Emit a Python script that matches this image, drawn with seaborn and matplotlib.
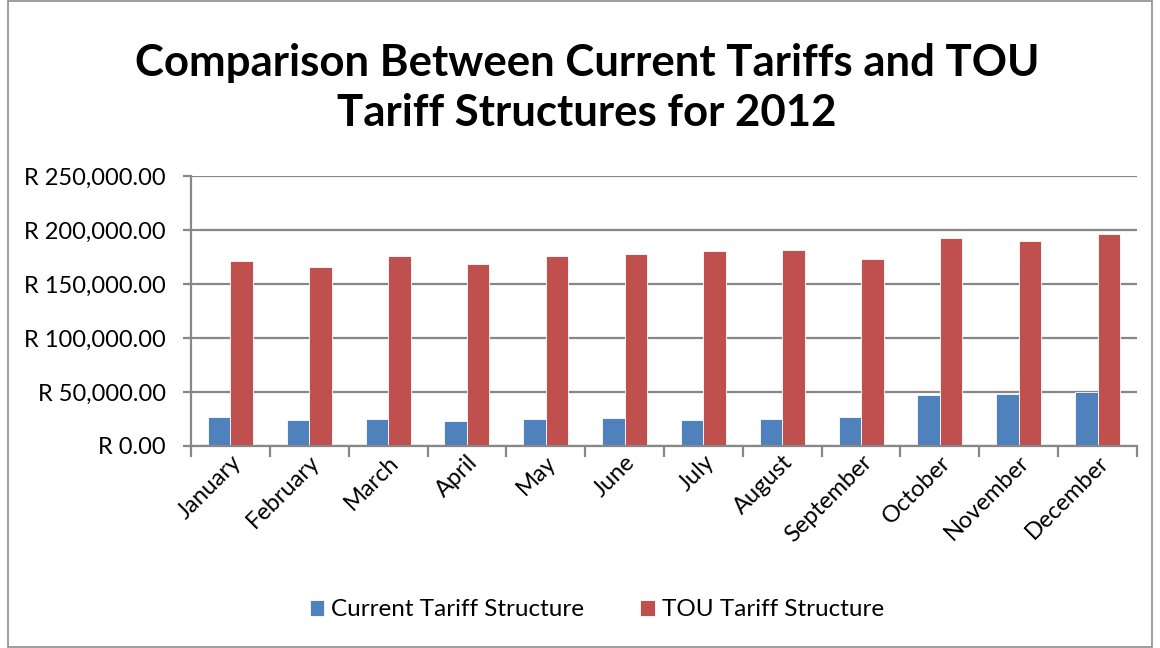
import matplotlib
matplotlib.use("Agg")
import matplotlib.pyplot as plt
import seaborn as sns
import pandas as pd
import numpy as np
from matplotlib.ticker import FuncFormatter, FixedLocator
from matplotlib.patches import Rectangle

months = ["January", "February", "March", "April", "May", "June", "July",
          "August", "September", "October", "November", "December"]
current = [26600, 24500, 25100, 22900, 25100, 26000, 24500, 25100, 26900, 47100, 48300, 50200]
tou = [171200, 165300, 175500, 168700, 175500, 177400, 180500, 181400, 173100, 192600, 189800, 196300]
series_names = ["Current Tariff Structure", "TOU Tariff Structure"]
colors = ["#4F81BD", "#C0504D"]
yticks = [0, 50000, 100000, 150000, 200000, 250000]

df = pd.DataFrame({
    "Month": months * 2,
    "Value": current + tou,
    "Series": [series_names[0]] * 12 + [series_names[1]] * 12,
})

sns.set_theme(style="white")
plt.rcParams["font.family"] = ["Lato", "DejaVu Sans"]
plt.rcParams["text.color"] = "black"
plt.rcParams["xtick.color"] = "black"
plt.rcParams["ytick.color"] = "black"

fig = plt.figure(figsize=(11.6, 6.48), dpi=100)
ax = fig.add_axes([191 / 1160, 1 - 446 / 648, (1137 - 191) / 1160, (446 - 176) / 648])

sns.barplot(data=df, x="Month", y="Value", hue="Series", palette=colors,
            width=0.57, ax=ax, edgecolor="white", linewidth=0.6, saturation=1)

ax.set_ylim(0, 250000)
ax.set_xlim(-0.5, 11.5)
ax.yaxis.set_major_locator(FixedLocator(yticks))
ax.yaxis.set_major_formatter(FuncFormatter(lambda v, p: f"R {v:,.2f}"))
ax.grid(axis="y", color="#878787", linewidth=1.6)
ax.set_axisbelow(True)
for s in ["top", "right"]:
    ax.spines[s].set_visible(False)
for s in ["left", "bottom"]:
    ax.spines[s].set_color("#878787")
    ax.spines[s].set_linewidth(1.6)
ax.tick_params(axis="y", which="major", length=6, width=1.6, color="#878787",
               labelsize=17, pad=12, left=True, labelcolor="black")
ax.tick_params(axis="x", which="major", length=0, labelsize=17, pad=4, labelcolor="black")
ax.set_xticks(np.arange(-0.5, 12, 1), minor=True)
ax.tick_params(axis="x", which="minor", length=8, width=1.6, color="#878787", bottom=True)
for lbl in ax.get_xticklabels():
    lbl.set_rotation(45)
    lbl.set_ha("right")
    lbl.set_rotation_mode("anchor")
ax.set_xlabel("")
ax.set_ylabel("")

handles, labels = ax.get_legend_handles_labels()
ax.legend_.remove()
fig.legend(handles, labels, loc="center", bbox_to_anchor=(597 / 1160, 1 - 610 / 648),
           ncol=2, frameon=False, fontsize=17.5, handlelength=0.6, handleheight=0.6,
           handletextpad=0.3, columnspacing=2.3)

fig.text(587 / 1160, 1 - 88 / 648,
         "Comparison Between Current Tariffs and TOU\nTariff Structures for 2012",
         ha="center", va="center", fontsize=31.5, fontweight="bold", linespacing=1.3,
         color="black")

fig.patches.append(Rectangle((8 / 1160, 0.002), 1 - 16 / 1160, 0.996,
                             transform=fig.transFigure, fill=False,
                             edgecolor="#8C8C8C", linewidth=1.2))

fig.savefig("out.png", dpi=100)
